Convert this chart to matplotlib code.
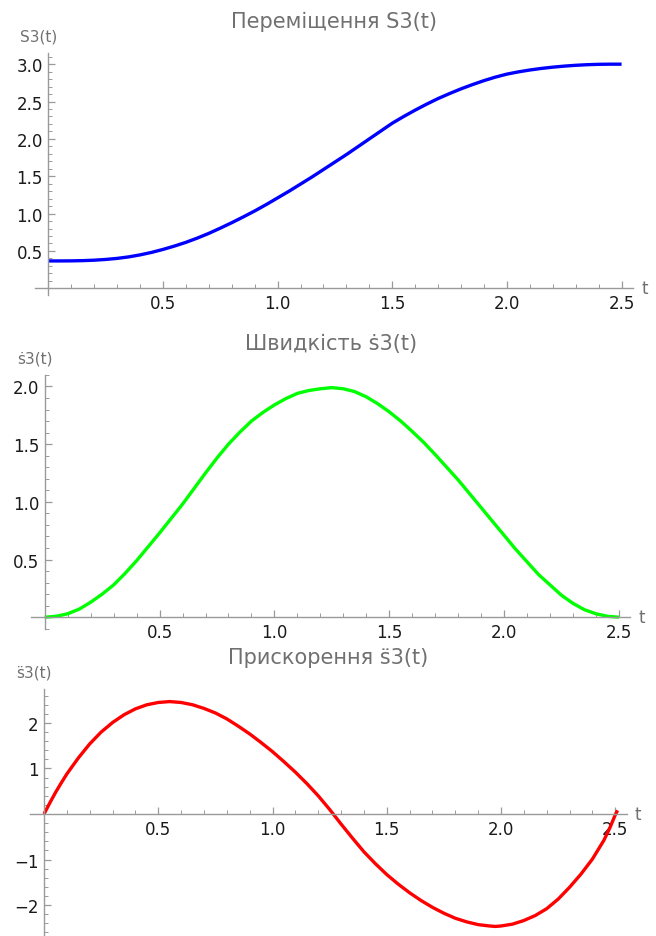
import matplotlib
matplotlib.use("Agg")
import matplotlib.pyplot as plt
from matplotlib.ticker import MultipleLocator, FixedLocator
import matplotlib.transforms as mtransforms

plt.rcParams['font.family'] = ['DejaVu Sans']

# values
t_s = [0.0, 0.05, 0.1, 0.15, 0.2, 0.25, 0.3, 0.35, 0.4, 0.45, 0.5, 0.55, 0.6, 0.65, 0.7,
       0.75, 0.8, 0.85, 0.9, 0.95, 1.0, 1.05, 1.1, 1.15, 1.2, 1.25, 1.3, 1.35, 1.4, 1.45,
       1.5, 1.55, 1.6, 1.65, 1.7, 1.75, 1.8, 1.85, 1.9, 1.95, 2.0, 2.05, 2.1, 2.15, 2.2,
       2.25, 2.3, 2.35, 2.4, 2.45, 2.5]
s_vals = [0.366, 0.366, 0.367, 0.370, 0.376, 0.386, 0.400, 0.420, 0.447, 0.480, 0.520,
          0.565, 0.615, 0.672, 0.735, 0.805, 0.878, 0.955, 1.035, 1.120, 1.210, 1.300,
          1.395, 1.490, 1.590, 1.690, 1.790, 1.895, 2.000, 2.105, 2.210, 2.300, 2.385,
          2.465, 2.540, 2.607, 2.670, 2.727, 2.780, 2.827, 2.867, 2.897, 2.922, 2.943,
          2.960, 2.974, 2.985, 2.993, 2.998, 3.0, 3.0]

t_v = t_s
v_vals = [0.0, 0.008, 0.03, 0.07, 0.13, 0.20, 0.28, 0.38, 0.49, 0.61, 0.73, 0.855, 0.98,
          1.115, 1.25, 1.38, 1.50, 1.605, 1.70, 1.775, 1.84, 1.895, 1.94, 1.965, 1.98, 1.99,
          1.98, 1.955, 1.91, 1.85, 1.78, 1.70, 1.61, 1.515, 1.41, 1.30, 1.19, 1.07, 0.95,
          0.83, 0.71, 0.59, 0.48, 0.37, 0.28, 0.19, 0.12, 0.065, 0.03, 0.008, 0.0]

t_a = [0.0, 0.025, 0.05, 0.075, 0.1, 0.15, 0.2, 0.25, 0.3, 0.35, 0.4, 0.45, 0.5, 0.55,
       0.6, 0.65, 0.7, 0.75, 0.8, 0.85, 0.9, 0.95, 1.0, 1.05, 1.1, 1.15, 1.2, 1.25, 1.3,
       1.35, 1.4, 1.45, 1.5, 1.55, 1.6, 1.65, 1.7, 1.75, 1.8, 1.85, 1.9, 1.95, 1.975, 2.0,
       2.05, 2.1, 2.15, 2.2, 2.25, 2.3, 2.35, 2.4, 2.45, 2.475, 2.5, 2.51]
a_vals = [0.0, 0.24, 0.47, 0.68, 0.88, 1.23, 1.54, 1.80, 2.01, 2.18, 2.31, 2.40, 2.45, 2.47,
          2.45, 2.40, 2.32, 2.22, 2.09, 1.93, 1.76, 1.57, 1.37, 1.15, 0.92, 0.67, 0.40, 0.10,
          -0.22, -0.53, -0.83, -1.09, -1.33, -1.54, -1.73, -1.90, -2.05, -2.18, -2.29, -2.37,
          -2.43, -2.46, -2.47, -2.46, -2.42, -2.34, -2.23, -2.08, -1.87, -1.61, -1.32, -0.99,
          -0.58, -0.32, -0.02, 0.08]

x_ticks = [0.5, 1.0, 1.5, 2.0, 2.5]
x_labels = ["0.5", "1.0", "1.5", "2.0", "2.5"]
s_ticks = [0.5, 1.0, 1.5, 2.0, 2.5, 3.0]
s_labels = ["0.5", "1.0", "1.5", "2.0", "2.5", "3.0"]
v_ticks = [0.5, 1.0, 1.5, 2.0]
v_labels = ["0.5", "1.0", "1.5", "2.0"]
a_ticks = [-2, -1, 1, 2]
a_labels = ["\u22122", "\u22121", "1", "2"]

titles = ["Переміщення S3(t)", "Швидкість \u1e613(t)", "Прискорення s\u03083(t)"]
ylabels = ["S3(t)", "\u1e613(t)", "s\u03083(t)"]

AXIS_COL = "#9a9a9a"
TEXT_COL = "#707070"

fig = plt.figure(figsize=(6.56, 9.37), dpi=100)

panels = [
    dict(rect=[0.0534, 0.6841, 0.9116, 0.2583], xlim=(-0.058, 2.55), ylim=(-0.09, 3.15),
         t=t_s, y=s_vals, color="#0000ff", yt=s_ticks, yl=s_labels, ymin=0.1),
    dict(rect=[0.0479, 0.3279, 0.9131, 0.2709], xlim=(-0.058, 2.55), ylim=(-0.1, 2.1),
         t=t_v, y=v_vals, color="#00ff00", yt=v_ticks, yl=v_labels, ymin=0.1),
    dict(rect=[0.0462, 0.0, 0.9091, 0.2633], xlim=(-0.06, 2.55), ylim=(-2.68, 2.74),
         t=t_a, y=a_vals, color="#ff0000", yt=a_ticks, yl=a_labels, ymin=0.2),
]

for i, p in enumerate(panels):
    ax = fig.add_axes(p["rect"])
    ax.plot(p["t"], p["y"], color=p["color"], lw=2.4, solid_capstyle="butt", clip_on=False)
    ax.set_xlim(*p["xlim"])
    ax.set_ylim(*p["ylim"])
    ax.spines["left"].set_position(("data", 0))
    ax.spines["bottom"].set_position(("data", 0))
    ax.spines["top"].set_visible(False)
    ax.spines["right"].set_visible(False)
    for sp in ["left", "bottom"]:
        ax.spines[sp].set_color(AXIS_COL)
        ax.spines[sp].set_linewidth(1.0)
    ax.patch.set_visible(False)

    ax.xaxis.set_major_locator(FixedLocator(x_ticks))
    ax.set_xticklabels(x_labels)
    ax.xaxis.set_minor_locator(MultipleLocator(0.1))
    ax.yaxis.set_major_locator(FixedLocator(p["yt"]))
    ax.set_yticklabels(p["yl"])
    ax.yaxis.set_minor_locator(MultipleLocator(p["ymin"]))
    ax.tick_params(which="major", direction="in", length=5, width=0.9, color=AXIS_COL,
                   labelsize=12, labelcolor="#1a1a1a", pad=4)
    ax.tick_params(which="minor", direction="in", length=3, width=0.7, color=AXIS_COL)

    # axis names in Mathematica style
    off_t = mtransforms.ScaledTranslation(8 / 100, 0, fig.dpi_scale_trans)
    tr = mtransforms.blended_transform_factory(ax.transAxes, ax.transData) + off_t
    ax.text(1.0, 0, "t", transform=tr, ha="left", va="center", fontsize=12,
            color=TEXT_COL)
    off_y = mtransforms.ScaledTranslation(-10 / 100, 17 / 100, fig.dpi_scale_trans)
    trl = mtransforms.blended_transform_factory(ax.transData, ax.transAxes) + off_y
    ax.text(0, 1.0, ylabels[i], transform=trl, ha="center", va="center", fontsize=11,
            color=TEXT_COL)
    ax.set_title(titles[i], fontsize=15, color=TEXT_COL, pad=19)

fig.savefig("out.png", dpi=100)
